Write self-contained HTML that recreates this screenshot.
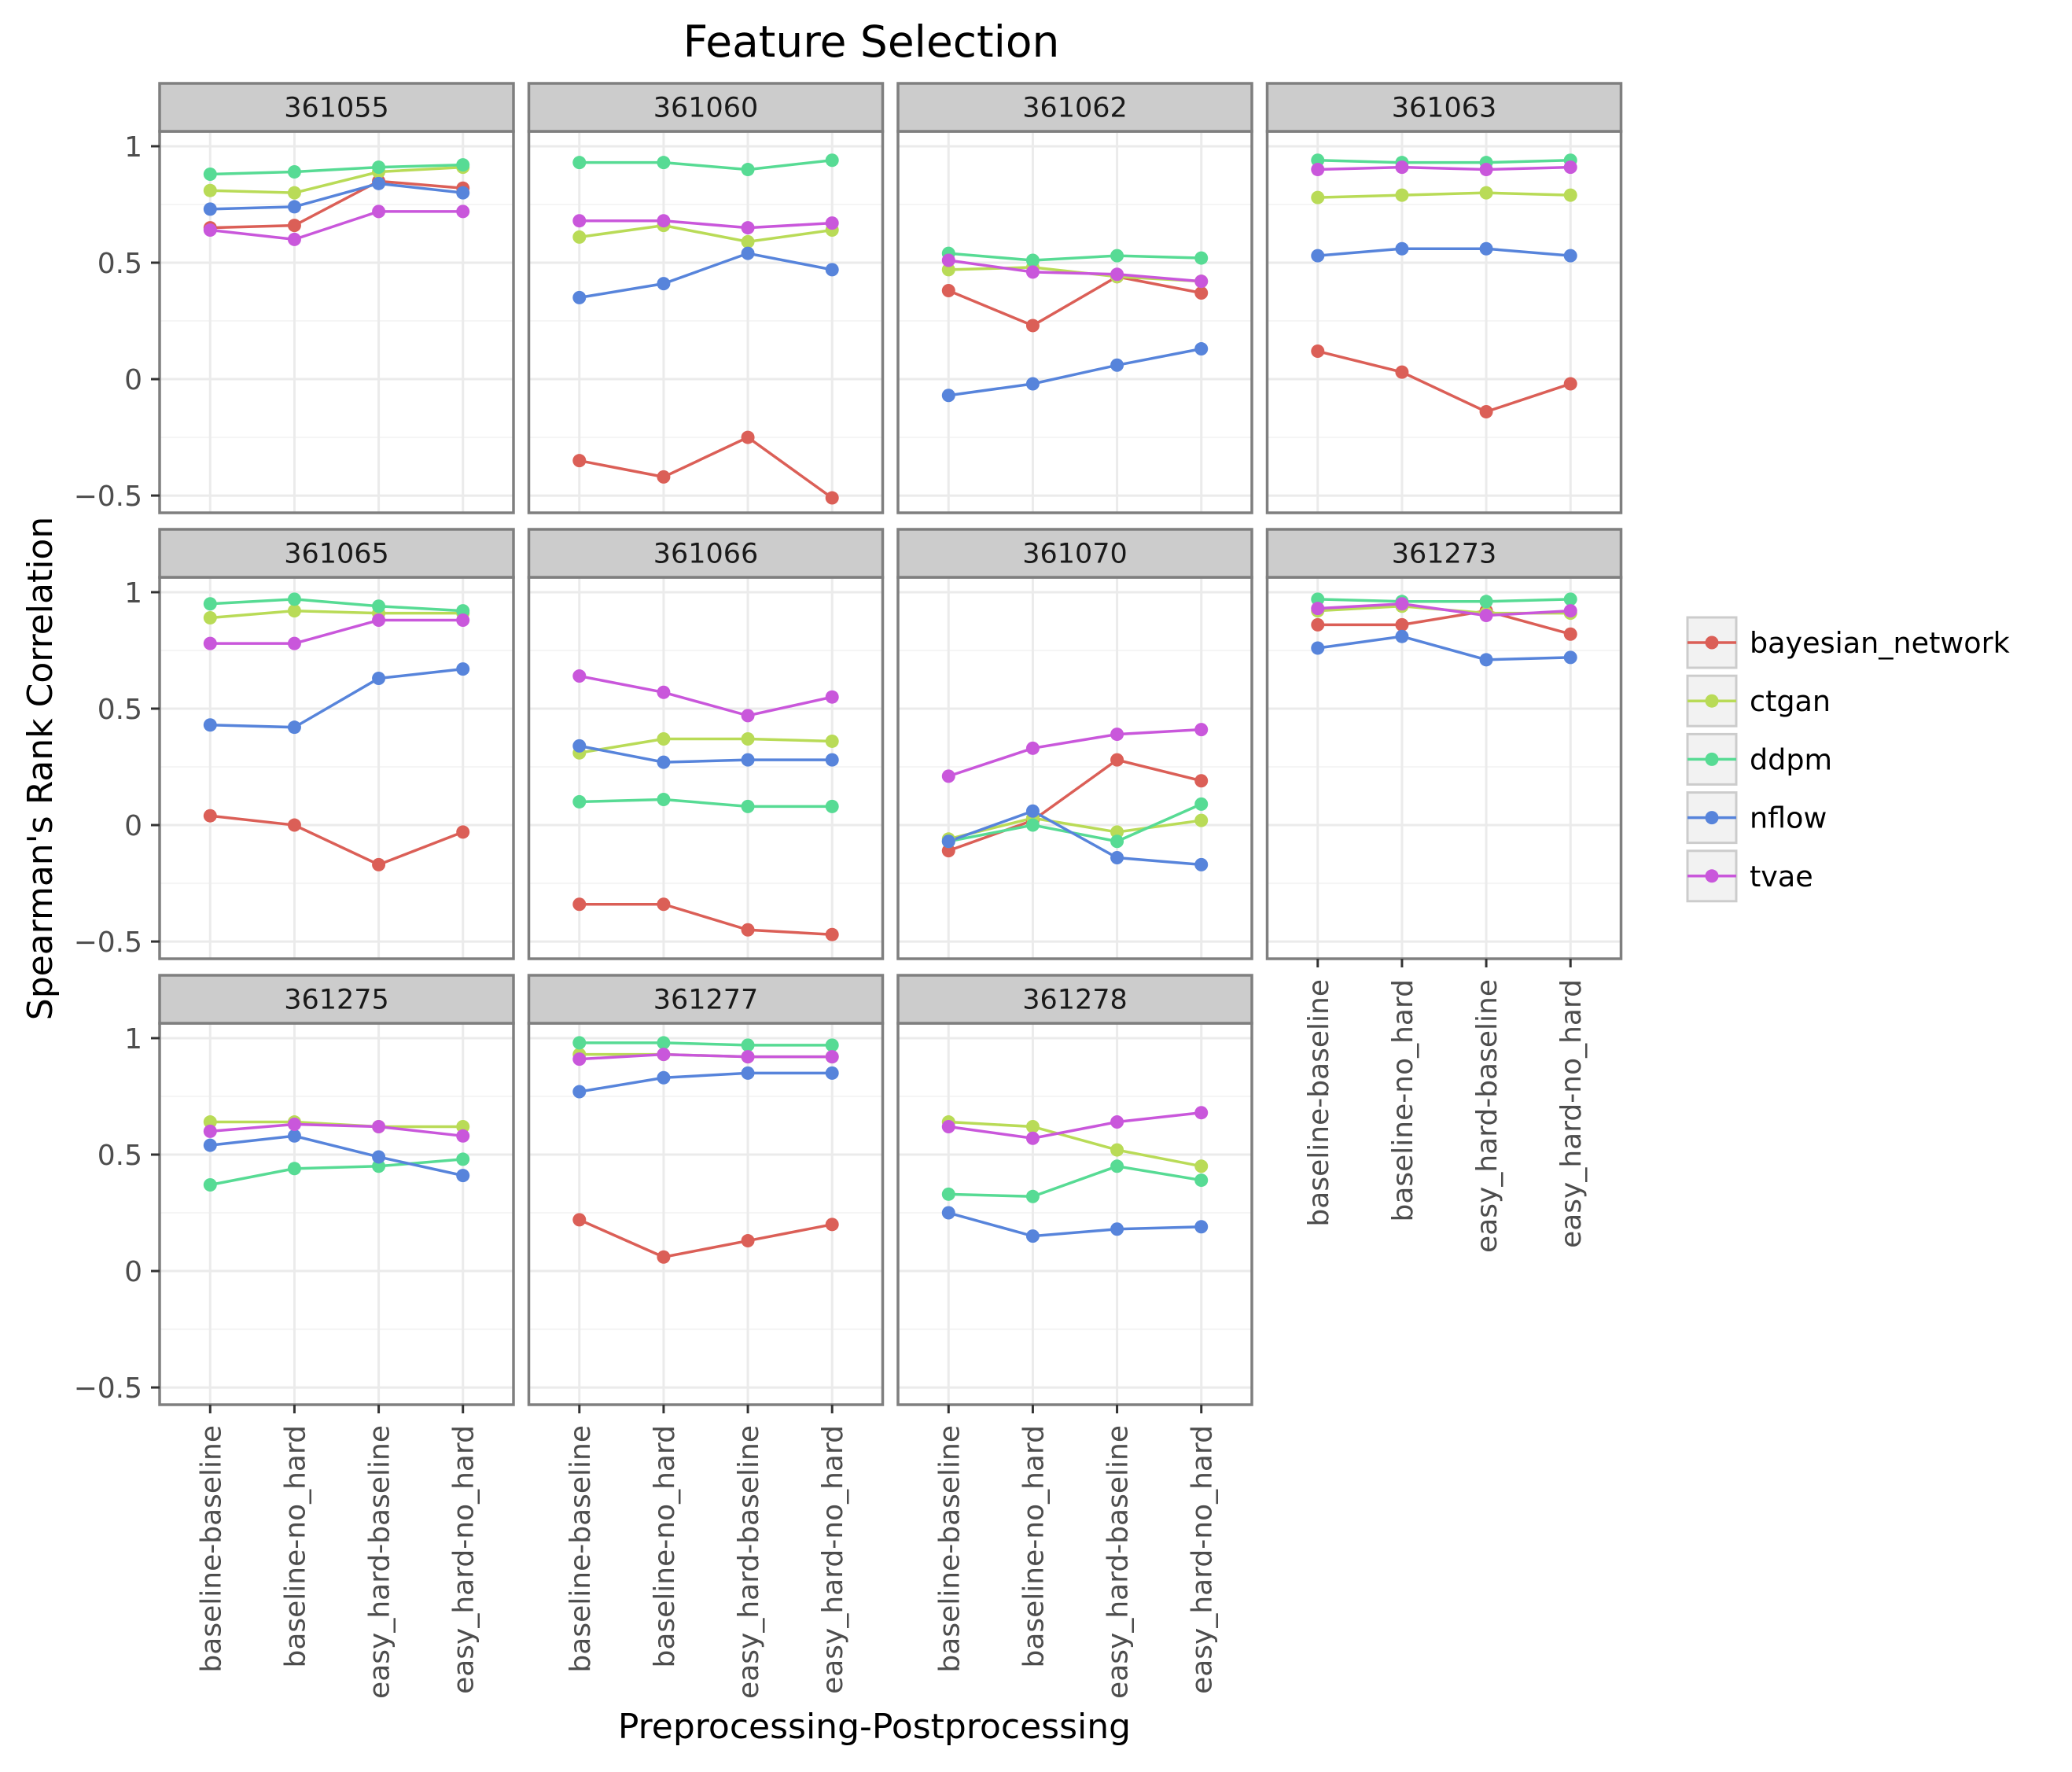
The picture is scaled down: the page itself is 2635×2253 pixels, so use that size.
<!DOCTYPE html>
<html><head><meta charset="utf-8"><style>
html,body{margin:0;padding:0;background:#fff;}
svg{display:block;font-family:"DejaVu Sans","Liberation Sans",sans-serif;}
</style></head><body>
<svg id="chart" xmlns="http://www.w3.org/2000/svg" width="2635" height="2253" viewBox="0 0 2635 2253">
<rect x="0" y="0" width="2635" height="2253" fill="#fff"/>
<text x="1108" y="72" font-size="55" text-anchor="middle" fill="#000">Feature Selection</text>
<text x="1112" y="2210" font-size="44" text-anchor="middle" fill="#000">Preprocessing-Postprocessing</text>
<text transform="translate(66,977) rotate(-90)" font-size="44" text-anchor="middle" fill="#000">Spearman's Rank Correlation</text>
<g id="panels"></g>
<g id="legend"></g>
</svg>
<script>
const categories = ["baseline-baseline","baseline-no_hard","easy_hard-baseline","easy_hard-no_hard"];
const seriesNames = ["bayesian_network","ctgan","ddpm","nflow","tvae"];
const seriesColors = ["#db5f57","#b9db57","#57db94","#5784db","#c957db"];
const datasets = ["361055","361060","361062","361063","361065","361066","361070","361273","361275","361277","361278"];
const yTicks = [-0.5,0,0.5,1];
const yTickLabels = ["\u22120.5","0","0.5","1"];
const yMinor = [-0.25,0.25,0.75];
const bayesianValues = [
 [0.65,0.66,0.85,0.82],[-0.35,-0.42,-0.25,-0.51],[0.38,0.23,0.44,0.37],[0.12,0.03,-0.14,-0.02],
 [0.04,0.0,-0.17,-0.03],[-0.34,-0.34,-0.45,-0.47],[-0.11,0.02,0.28,0.19],[0.86,0.86,0.92,0.82],
 null,[0.22,0.06,0.13,0.20],null];
const ctganValues = [
 [0.81,0.80,0.89,0.91],[0.61,0.66,0.59,0.64],[0.47,0.48,0.44,0.42],[0.78,0.79,0.80,0.79],
 [0.89,0.92,0.91,0.91],[0.31,0.37,0.37,0.36],[-0.06,0.03,-0.03,0.02],[0.92,0.94,0.91,0.91],
 [0.64,0.64,0.62,0.62],[0.93,0.93,0.92,0.92],[0.64,0.62,0.52,0.45]];
const ddpmValues = [
 [0.88,0.89,0.91,0.92],[0.93,0.93,0.90,0.94],[0.54,0.51,0.53,0.52],[0.94,0.93,0.93,0.94],
 [0.95,0.97,0.94,0.92],[0.10,0.11,0.08,0.08],[-0.07,0.0,-0.07,0.09],[0.97,0.96,0.96,0.97],
 [0.37,0.44,0.45,0.48],[0.98,0.98,0.97,0.97],[0.33,0.32,0.45,0.39]];
const nflowValues = [
 [0.73,0.74,0.84,0.80],[0.35,0.41,0.54,0.47],[-0.07,-0.02,0.06,0.13],[0.53,0.56,0.56,0.53],
 [0.43,0.42,0.63,0.67],[0.34,0.27,0.28,0.28],[-0.07,0.06,-0.14,-0.17],[0.76,0.81,0.71,0.72],
 [0.54,0.58,0.49,0.41],[0.77,0.83,0.85,0.85],[0.25,0.15,0.18,0.19]];
const tvaeValues = [
 [0.64,0.60,0.72,0.72],[0.68,0.68,0.65,0.67],[0.51,0.46,0.45,0.42],[0.90,0.91,0.90,0.91],
 [0.78,0.78,0.88,0.88],[0.64,0.57,0.47,0.55],[0.21,0.33,0.39,0.41],[0.93,0.95,0.90,0.92],
 [0.60,0.63,0.62,0.58],[0.91,0.93,0.92,0.92],[0.62,0.57,0.64,0.68]];
const allSeries = [bayesianValues,ctganValues,ddpmValues,nflowValues,tvaeValues];

const NS="http://www.w3.org/2000/svg";
const L0=203, PITCH_X=469.5, PW=450, T0=106, PITCH_Y=567, SH=61, PH=485;
const YMAX=1.064, YMIN=-0.574;
function mk(tag,attrs,parent){const e=document.createElementNS(NS,tag);for(const k in attrs)e.setAttribute(k,attrs[k]);parent.appendChild(e);return e;}
const panelsG=document.getElementById('panels');
datasets.forEach((ds,p)=>{
  const col=p%4,row=Math.floor(p/4);
  const left=L0+col*PITCH_X, top=T0+row*PITCH_Y, at=top+SH, ab=at+PH;
  const xs=i=>left+PW*(i+0.6)/4.2;
  const ys=v=>at+PH*(YMAX-v)/(YMAX-YMIN);
  const g=mk('g',{},panelsG);
  
  
  const bg=mk('rect',{x:left,y:at,width:PW,height:PH,fill:'#fff'},g);
  
  
  yMinor.forEach(v=>{const l=mk('line',{x1:left,x2:left+PW,y1:ys(v),y2:ys(v),stroke:'#f5f5f5','stroke-width':2},g);
    });
  yTicks.forEach(v=>{const l=mk('line',{x1:left,x2:left+PW,y1:ys(v),y2:ys(v),stroke:'#ebebeb','stroke-width':3},g);
    });
  categories.forEach((c,i)=>{const l=mk('line',{x1:xs(i),x2:xs(i),y1:at,y2:ab,stroke:'#ebebeb','stroke-width':3},g);
    });
  allSeries.forEach((s,k)=>{const vals=s[p];if(!vals)return;
    const pl=mk('polyline',{points:vals.map((v,i)=>xs(i)+','+ys(v)).join(' '),fill:'none',stroke:seriesColors[k],'stroke-width':3.5},g);
    });
  allSeries.forEach((s,k)=>{const vals=s[p];if(!vals)return;
    vals.forEach((v,i)=>{const c=mk('circle',{cx:xs(i),cy:ys(v),r:8.5,fill:seriesColors[k]},g);
      });});
  const fr=mk('rect',{x:left,y:at,width:PW,height:PH,fill:'none',stroke:'#7f7f7f','stroke-width':3.5},g);
  
  const st=mk('rect',{x:left,y:top,width:PW,height:SH,fill:'#cccccc',stroke:'#7f7f7f','stroke-width':3.5},g);
  
  const stt=mk('text',{x:left+PW/2,y:top+SH/2+12,'font-size':35,'text-anchor':'middle',fill:'#1a1a1a'},g);
  stt.textContent=ds;
  
  if(col===0){
    yTicks.forEach((v,j)=>{
      const tk=mk('line',{x1:left-11,x2:left,y1:ys(v),y2:ys(v),stroke:'#333','stroke-width':3},g);
      
      const t=mk('text',{x:left-22,y:ys(v)+13,'font-size':36,'text-anchor':'end',fill:'#4d4d4d'},g);
      t.textContent=yTickLabels[j];
      });
  }
  const showX = row===2 || (row===1 && col===3);
  if(showX){
    categories.forEach((c,i)=>{
      const tk=mk('line',{x1:xs(i),x2:xs(i),y1:ab,y2:ab+11,stroke:'#333','stroke-width':3},g);
      
      const t=mk('text',{transform:'translate('+(xs(i)+13)+','+(ab+26)+') rotate(-90)','font-size':36,'text-anchor':'end',fill:'#4d4d4d'},g);
      t.textContent=c;
      });
  }
});
const lg=document.getElementById('legend');


seriesNames.forEach((n,k)=>{
  const cy=817+k*74.2;
  const e=mk('g',{},lg);
  
  
  mk('rect',{x:2146,y:cy-32,width:62,height:64,fill:'#f2f2f2',stroke:'#cccccc','stroke-width':3},e);
  mk('line',{x1:2146,x2:2208,y1:cy,y2:cy,stroke:seriesColors[k],'stroke-width':3.5},e);
  mk('circle',{cx:2177,cy:cy,r:8.5,fill:seriesColors[k]},e);
  const t=mk('text',{x:2225,y:cy+13,'font-size':36.5,fill:'#000'},e);
  t.textContent=n;
});
</script>
</body></html>
